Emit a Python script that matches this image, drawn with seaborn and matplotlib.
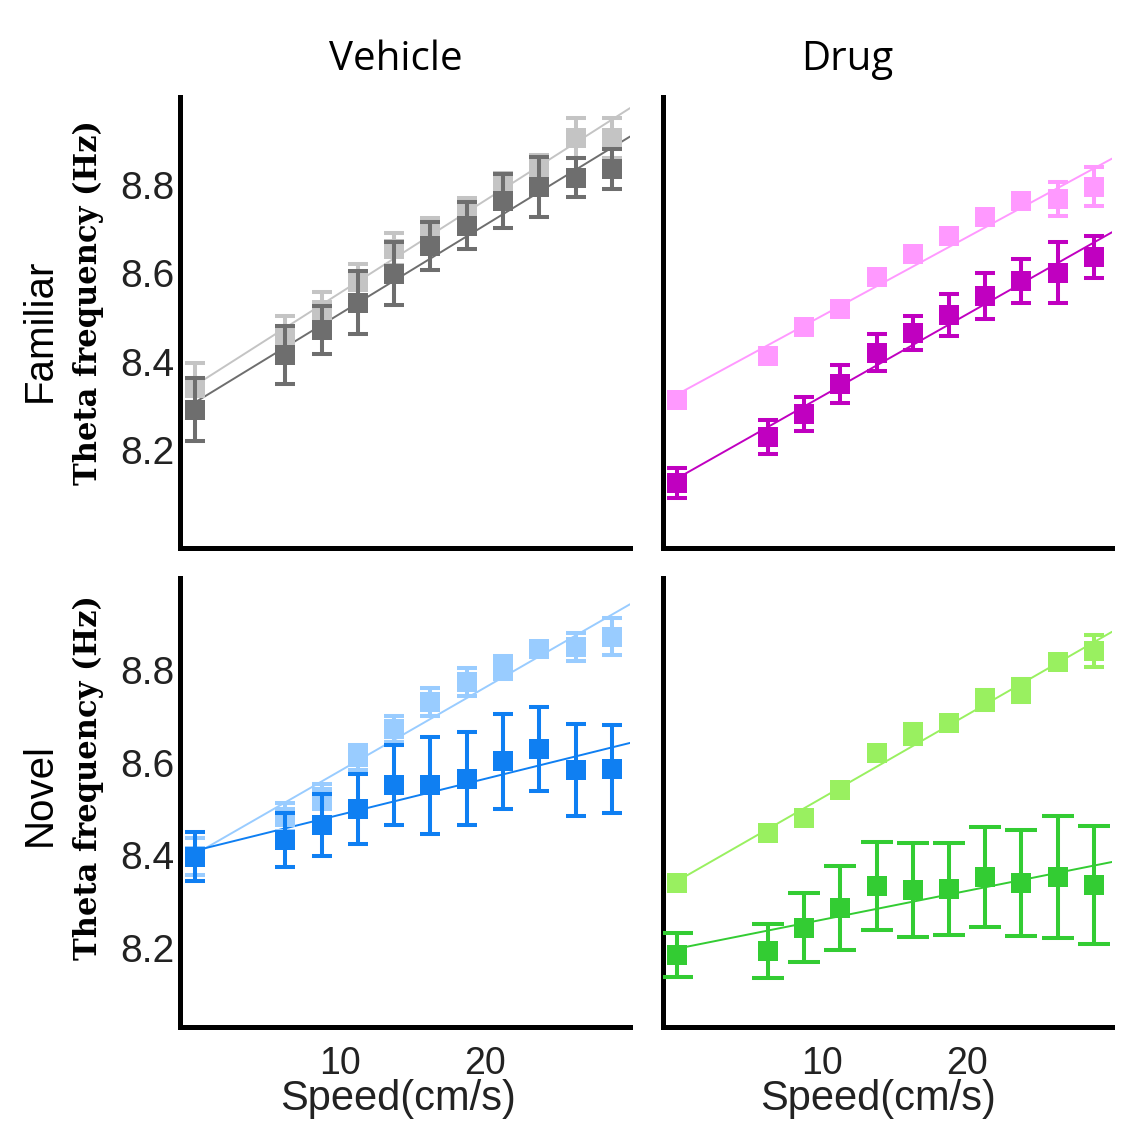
import numpy as np
import pandas as pd
import matplotlib
matplotlib.use("Agg")
import matplotlib.pyplot as plt
import seaborn as sns

# ---------------- data ----------------
speed = [0, 6.25, 8.75, 11.25, 13.75, 16.25, 18.75, 21.25, 23.75, 26.25, 28.75]

# Familiar / Vehicle (grey)
fam_veh_light = [8.341, 8.458, 8.517, 8.580, 8.654, 8.705, 8.750, 8.806, 8.841, 8.907, 8.907]
fam_veh_light_err = [0.055, 0.045, 0.040, 0.040, 0.036, 0.020, 0.020, 0.020, 0.027, 0.045, 0.045]
fam_veh_dark = [8.291, 8.415, 8.471, 8.533, 8.599, 8.662, 8.708, 8.764, 8.796, 8.816, 8.836]
fam_veh_dark_err = [0.071, 0.065, 0.054, 0.071, 0.071, 0.055, 0.054, 0.061, 0.068, 0.044, 0.045]

# Familiar / Drug (magenta)
fam_drug_light = [8.313, 8.413, 8.478, 8.519, 8.592, 8.644, 8.684, 8.728, 8.764, 8.768, 8.796]
fam_drug_light_err = [0.012, 0.015, 0.012, 0.012, 0.012, 0.012, 0.012, 0.012, 0.012, 0.038, 0.044]
fam_drug_dark = [8.125, 8.229, 8.282, 8.349, 8.420, 8.465, 8.506, 8.549, 8.582, 8.601, 8.637]
fam_drug_dark_err = [0.034, 0.038, 0.038, 0.043, 0.042, 0.039, 0.048, 0.052, 0.050, 0.069, 0.048]

# Novel / Vehicle (blue)
nov_veh_light = [8.398, 8.483, 8.526, 8.612, 8.673, 8.731, 8.774, 8.805, 8.845, 8.850, 8.871]
nov_veh_light_err = [0.040, 0.030, 0.027, 0.027, 0.028, 0.030, 0.030, 0.025, 0.015, 0.030, 0.040]
nov_veh_dark = [8.397, 8.433, 8.466, 8.500, 8.551, 8.551, 8.565, 8.603, 8.629, 8.584, 8.586]
nov_veh_dark_err = [0.053, 0.058, 0.067, 0.076, 0.086, 0.104, 0.100, 0.102, 0.090, 0.099, 0.095]

# Novel / Drug (green)
nov_drug_light = [8.341, 8.449, 8.480, 8.541, 8.621, 8.662, 8.685, 8.735, 8.756, 8.817, 8.841]
nov_drug_light_err = [0.012, 0.015, 0.012, 0.015, 0.015, 0.022, 0.015, 0.022, 0.025, 0.015, 0.034]
nov_drug_dark = [8.185, 8.194, 8.244, 8.287, 8.334, 8.325, 8.327, 8.353, 8.341, 8.353, 8.336]
nov_drug_dark_err = [0.048, 0.058, 0.074, 0.091, 0.095, 0.101, 0.099, 0.108, 0.114, 0.131, 0.127]

col_titles = ["Vehicle", "Drug"]
row_titles = ["Familiar", "Novel"]
y_ticks = [8.2, 8.4, 8.6, 8.8]
x_ticks = [10, 20]
y_label = "Theta frequency (Hz)"
x_label = "Speed(cm/s)"

# ---------------- style ----------------
sns.set_theme(style="white")
plt.rcParams['font.family'] = ['Liberation Sans', 'DejaVu Sans']

W, H = 1128, 1129
fig = plt.figure(figsize=(W / 100, H / 100), dpi=100)


def rect(x0, y0, x1, y1):
    return [x0 / W, 1 - y1 / H, (x1 - x0) / W, (y1 - y0) / H]


panels = [
    dict(r=rect(180, 97, 630, 548), ylim=(7.978, 8.999), light=fam_veh_light, le=fam_veh_light_err,
         dark=fam_veh_dark, de=fam_veh_dark_err, lc="#c4c4c4", dc="#6e6e6e", cap=7.2, lcap=7.2,
         yl=True, xl=False),
    dict(r=rect(663, 97, 1112, 548), ylim=(7.978, 8.999), light=fam_drug_light, le=fam_drug_light_err,
         dark=fam_drug_dark, de=fam_drug_dark_err, lc="#ff99ff", dc="#c000c0", cap=7.2, lcap=7.2,
         yl=False, xl=False),
    dict(r=rect(180, 578, 630, 1027), ylim=(8.03, 8.998), light=nov_veh_light, le=nov_veh_light_err,
         dark=nov_veh_dark, de=nov_veh_dark_err, lc="#99ccff", dc="#0f7ff2", cap=7.2, lcap=7.2,
         yl=True, xl=True),
    dict(r=rect(663, 578, 1112, 1027), ylim=(8.03, 8.998), light=nov_drug_light, le=nov_drug_light_err,
         dark=nov_drug_dark, de=nov_drug_dark_err, lc="#99f060", dc="#33cc33", cap=11.5, lcap=7.5,
         yl=False, xl=True),
]

ms = 14.4
for p in panels:
    ax = fig.add_axes(p["r"])
    ax.set_xlim(0, 30)
    ax.set_ylim(*p["ylim"])
    for vals, errs, c, cap, z in [(p["light"], p["le"], p["lc"], p["lcap"], 2),
                                  (p["dark"], p["de"], p["dc"], p["cap"], 4)]:
        df = pd.DataFrame({"speed": speed, "freq": vals})
        sns.regplot(data=df, x="speed", y="freq", ax=ax, scatter=False, ci=None,
                    truncate=False, line_kws=dict(color=c, lw=1.4, zorder=1))
        ax.errorbar(speed, vals, yerr=errs, fmt="none", ecolor=c, elinewidth=2.9,
                    capsize=cap, capthick=2.9, zorder=z)
        sns.scatterplot(data=df, x="speed", y="freq", ax=ax, marker="s", s=ms ** 2,
                        color=c, linewidth=0, zorder=z + 0.5)
    ax.set_xlim(-1, 30)
    ax.set_ylim(*p["ylim"])
    ax.set_xlabel("")
    ax.set_ylabel("")
    for s in ["top", "right"]:
        ax.spines[s].set_visible(False)
    for s in ["left", "bottom"]:
        ax.spines[s].set_color("black")
        ax.spines[s].set_linewidth(3.6)
    ax.set_yticks(y_ticks)
    ax.set_xticks(x_ticks)
    ax.tick_params(length=0)
    ax.tick_params(axis="y", pad=4, labelsize=28, labelcolor="#222222")
    ax.tick_params(axis="x", pad=14, labelsize=27, labelcolor="#222222")
    if p["yl"]:
        ax.set_yticklabels([f"{t:.1f}" for t in y_ticks])
    else:
        ax.set_yticklabels([])
    if p["xl"]:
        ax.set_xticklabels([str(t) for t in x_ticks])
    else:
        ax.set_xticklabels([])

# column titles
for txt, xc in zip(col_titles, [396, 847]):
    fig.text(xc / W, 1 - 60 / H, txt, ha="center", va="center", fontsize=29,
             family=["Open Sans", "DejaVu Sans"], color="black")
# row titles
for txt, yc in zip(row_titles, [330, 795]):
    fig.text(40 / W, 1 - yc / H, txt, ha="center", va="center", rotation=90,
             fontsize=29, color="black")
# y labels
for yc in [303, 778]:
    fig.text(88 / W, 1 - yc / H, y_label, ha="center", va="center", rotation=90,
             fontsize=22, fontweight="bold", family=["DejaVu Serif"], color="black")
# x labels
for xc in [398, 878]:
    fig.text(xc / W, 1 - 1099 / H, x_label, ha="center", va="center", fontsize=30,
             color="#222222")

fig.savefig("out.png", dpi=100, facecolor="white")
